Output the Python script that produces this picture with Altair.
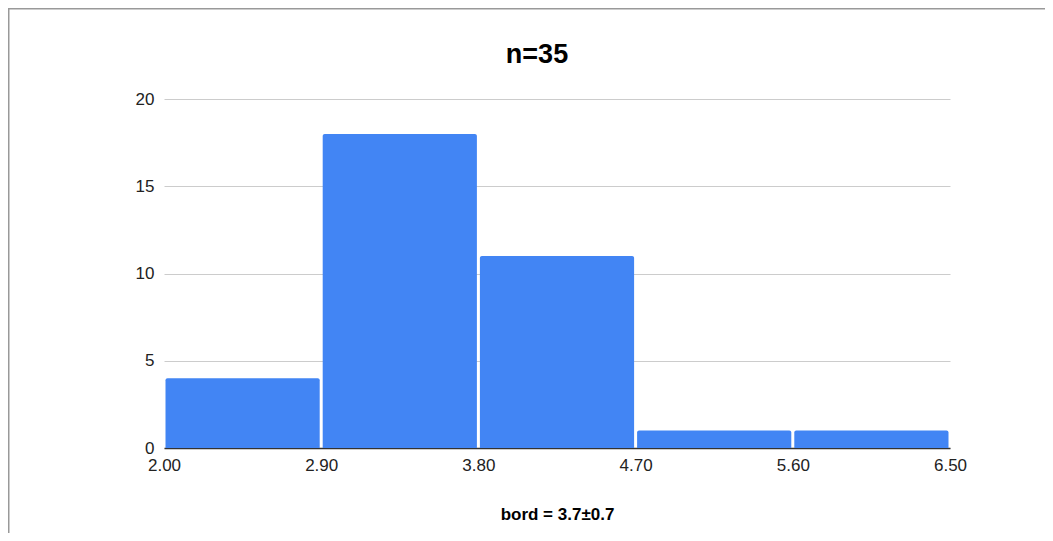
import altair as alt
import pandas as pd

bin_start = [2.0, 2.9, 3.8, 4.7, 5.6]
bin_end = [2.9, 3.8, 4.7, 5.6, 6.5]
counts = [4, 18, 11, 1, 1]
x_ticks = [2.0, 2.9, 3.8, 4.7, 5.6, 6.5]
y_ticks = [0, 5, 10, 15, 20]

df = pd.DataFrame({"start": bin_start, "end": bin_end, "count": counts})

FONT = "Liberation Sans"

bars = alt.Chart(df).mark_bar(
    color="#4285F4", cornerRadiusTopLeft=2, cornerRadiusTopRight=2,
    xOffset=1.5, x2Offset=-1.5
).encode(
    x=alt.X("start:Q",
            scale=alt.Scale(domain=[2.0, 6.5], nice=False, zero=False),
            axis=alt.Axis(values=x_ticks, format=".2f", title="bord = 3.7±0.7",
                          grid=False, ticks=False, domainColor="#333333", domainWidth=1.5,
                          labelFlush=False,
                          labelFont=FONT, labelFontSize=17, labelColor="#222222",
                          labelPadding=9, titleFont=FONT, titleFontSize=17,
                          titleFontWeight="bold", titleColor="#000000",
                          titleBaseline="alphabetic", titleY=71)),
    x2="end:Q",
    y=alt.Y("count:Q", scale=alt.Scale(domain=[0, 20], nice=False),
            axis=alt.Axis(values=y_ticks, title=None, grid=True, gridColor="#cccccc",
                          domain=False, ticks=False, labelFont=FONT, labelFontSize=17,
                          labelColor="#222222", labelPadding=10)),
    y2=alt.datum(0),
)

border_df = pd.DataFrame({"a": [0]})
left_line = alt.Chart(border_df).mark_rule(color="#999999", strokeWidth=2).encode(
    x=alt.value(-155.5), y=alt.value(-91), y2=alt.value(434)
)
top_line = alt.Chart(border_df).mark_rule(color="#999999", strokeWidth=2).encode(
    x=alt.value(-156), x2=alt.value(881), y=alt.value(-90.5)
)

chart = alt.layer(bars, left_line, top_line).properties(
    width=786, height=349,
    padding={"left": 156, "top": 91, "right": 95, "bottom": 85},
    autosize=alt.AutoSizeParams(type="none"),
    title=alt.TitleParams("n=35", font=FONT, fontSize=27, fontWeight="bold",
                          color="#000000", anchor="middle", dx=-20, offset=0,
                          baseline="alphabetic", dy=83),
).configure_view(stroke=None)

chart.save("out.html", embed_options={"renderer": "svg", "actions": False})
